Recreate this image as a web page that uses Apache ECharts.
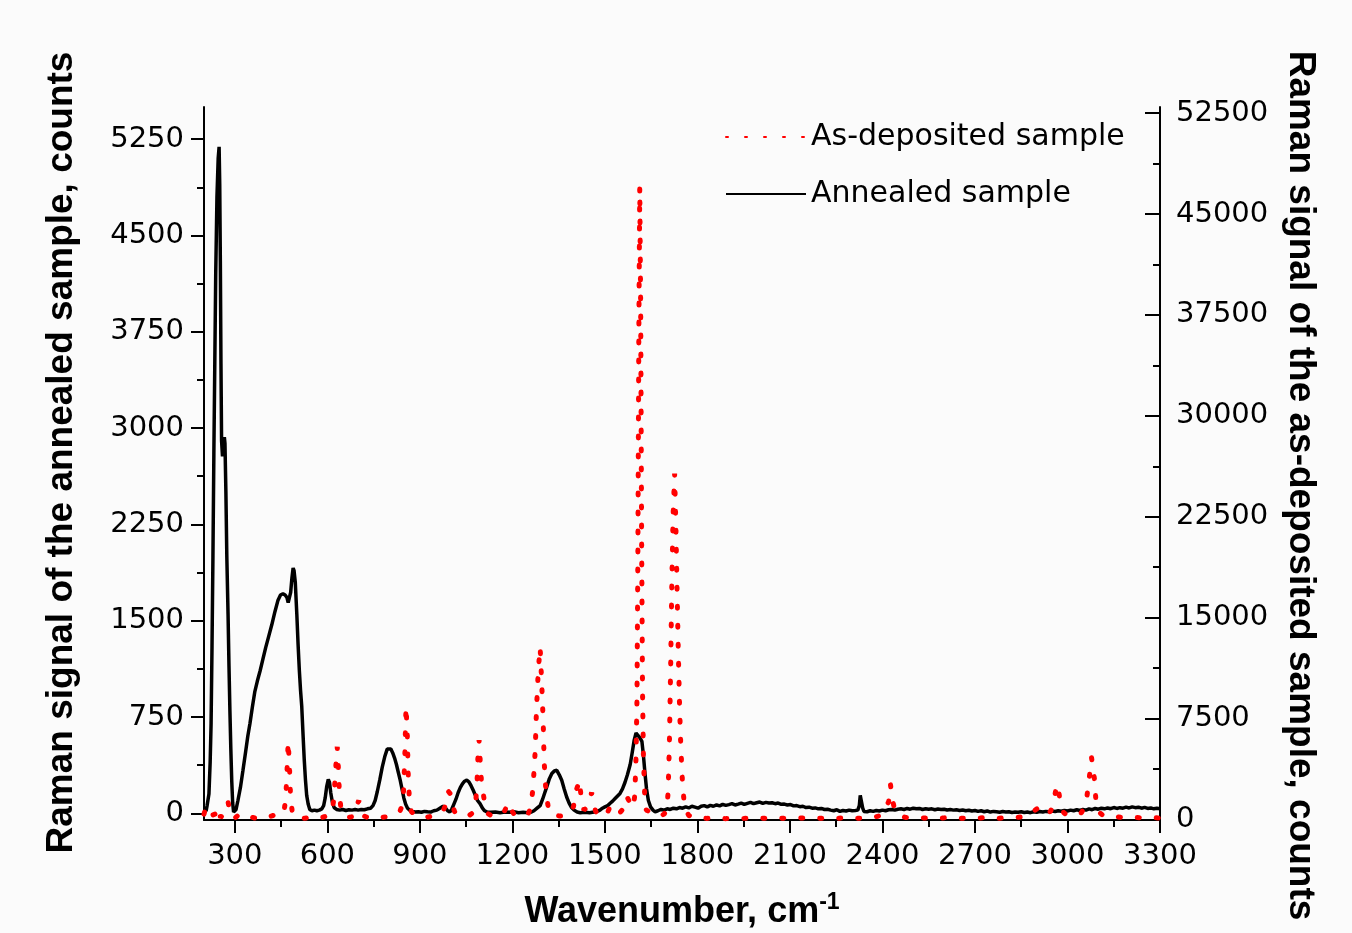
<!DOCTYPE html>
<html>
<head>
<meta charset="utf-8">
<script src="https://cdn.jsdelivr.net/npm/echarts@6/dist/echarts.min.js"></script>
<style>
  html, body { margin: 0; padding: 0; background: #fbfbfb; }
  #chart { width: 1352px; height: 933px; }
</style>
</head>
<body>
<div id="chart"></div>
<script>
// annealed sample (left axis), wavenumber / counts
const annealedX = [200, 203, 207, 210, 216, 220, 223, 226, 229, 232, 235, 238, 242, 246, 249, 251, 253, 255, 257, 260, 263, 266, 268, 271, 274, 278, 281, 284, 287, 290, 293, 296, 300, 304, 310, 318, 326, 335, 342, 349, 357, 365, 373, 382, 391, 400, 410, 420, 430, 440, 448, 456, 463, 469, 473, 477, 481, 485, 489, 492, 496, 501, 505, 509, 513, 517, 521, 525, 529, 533, 538, 543, 550, 558, 566, 574, 582, 588, 593, 598, 603, 607, 611, 616, 622, 630, 640, 650, 660, 670, 680, 690, 700, 710, 720, 730, 740, 748, 755, 762, 770, 778, 786, 794, 800, 806, 812, 818, 824, 830, 836, 842, 848, 854, 860, 867, 875, 885, 895, 905, 915, 925, 935, 945, 955, 965, 975, 982, 990, 997, 1003, 1010, 1017, 1024, 1031, 1038, 1045, 1052, 1059, 1066, 1073, 1080, 1087, 1095, 1103, 1110, 1118, 1130, 1145, 1160, 1175, 1190, 1205, 1220, 1235, 1250, 1262, 1270, 1280, 1290, 1298, 1305, 1312, 1320, 1328, 1336, 1344, 1352, 1360, 1368, 1376, 1384, 1392, 1400, 1410, 1420, 1435, 1450, 1465, 1475, 1484, 1492, 1500, 1509, 1517, 1525, 1533, 1541, 1549, 1557, 1565, 1573, 1582, 1589, 1595, 1601, 1607, 1613, 1620, 1625, 1630, 1635, 1641, 1648, 1656, 1663, 1672, 1682, 1692, 1702, 1712, 1722, 1732, 1742, 1752, 1762, 1772, 1782, 1792, 1802, 1812, 1822, 1832, 1842, 1852, 1862, 1872, 1882, 1892, 1902, 1912, 1922, 1932, 1942, 1952, 1962, 1972, 1982, 1992, 2002, 2012, 2022, 2032, 2042, 2052, 2062, 2072, 2082, 2092, 2102, 2112, 2122, 2132, 2142, 2152, 2162, 2172, 2182, 2192, 2202, 2212, 2222, 2232, 2242, 2252, 2262, 2272, 2282, 2292, 2302, 2312, 2320, 2325, 2328, 2333, 2336, 2340, 2350, 2360, 2370, 2380, 2390, 2400, 2410, 2420, 2430, 2440, 2450, 2460, 2470, 2480, 2490, 2500, 2510, 2520, 2530, 2540, 2550, 2560, 2570, 2580, 2590, 2600, 2610, 2620, 2630, 2640, 2650, 2660, 2670, 2680, 2690, 2700, 2710, 2720, 2730, 2740, 2750, 2760, 2770, 2780, 2790, 2800, 2810, 2820, 2830, 2840, 2850, 2860, 2870, 2880, 2890, 2900, 2910, 2920, 2930, 2940, 2950, 2960, 2970, 2980, 2990, 3000, 3010, 3020, 3030, 3040, 3050, 3060, 3070, 3080, 3090, 3100, 3110, 3120, 3130, 3140, 3150, 3160, 3170, 3180, 3190, 3200, 3210, 3220, 3230, 3240, 3250, 3260, 3270, 3280, 3290, 3300];
const annealedY = [15, 10, 20, 60, 150, 400, 700, 1300, 2000, 2800, 3500, 4200, 4800, 5100, 5190, 4900, 4300, 3500, 2900, 2780, 2900, 2930, 2880, 2500, 2000, 1550, 1150, 800, 500, 250, 80, 10, 5, 30, 100, 200, 330, 480, 600, 700, 830, 950, 1030, 1110, 1200, 1290, 1380, 1470, 1570, 1660, 1700, 1710, 1700, 1680, 1640, 1650, 1720, 1830, 1910, 1890, 1800, 1550, 1320, 1120, 960, 830, 620, 420, 260, 140, 70, 30, 20, 25, 20, 25, 35, 60, 120, 210, 265, 240, 160, 90, 45, 30, 25, 30, 22, 28, 25, 30, 25, 30, 28, 35, 40, 60, 100, 170, 260, 360, 440, 500, 515, 500, 470, 430, 380, 320, 260, 190, 120, 70, 40, 25, 15, 10, 12, 8, 15, 12, 10, 20, 25, 40, 55, 45, 20, 10, 30, 70, 110, 160, 200, 230, 250, 258, 245, 215, 180, 140, 100, 75, 40, 20, 10, 8, 10, 5, 10, 8, 12, 5, 8, 5, 10, 20, 40, 60, 110, 160, 210, 270, 310, 330, 335, 300, 257, 190, 127, 80, 45, 25, 10, 5, 8, 5, 10, 15, 25, 40, 50, 60, 78, 95, 115, 135, 155, 190, 240, 300, 380, 480, 570, 625, 615, 590, 560, 450, 310, 190, 100, 50, 25, 12, 20, 30, 25, 35, 30, 40, 35, 45, 40, 50, 42, 55, 48, 40, 55, 60, 50, 62, 55, 65, 58, 70, 62, 68, 75, 65, 72, 80, 70, 78, 85, 75, 82, 88, 78, 85, 80, 82, 75, 80, 70, 72, 65, 68, 58, 60, 52, 55, 45, 48, 40, 42, 35, 38, 30, 32, 25, 20, 28, 15, 22, 18, 25, 20, 22, 25, 60, 140, 145, 40, 15, 12, 20, 15, 22, 18, 25, 20, 28, 30, 25, 32, 35, 30, 38, 32, 40, 35, 38, 30, 36, 32, 35, 28, 33, 30, 32, 26, 30, 25, 28, 22, 26, 20, 24, 18, 22, 15, 20, 12, 18, 10, 15, 12, 8, 14, 10, 12, 6, 10, 8, 12, 6, 10, 5, 12, 8, 14, 10, 15, 12, 18, 14, 20, 16, 22, 18, 25, 20, 28, 22, 30, 25, 35, 28, 38, 32, 40, 35, 42, 36, 45, 38, 44, 40, 48, 42, 50, 44, 48, 40, 46, 38, 42, 35, 40, 36];

// as-deposited sample (right axis)
const depositedX = [200, 206, 212, 218, 224, 230, 236, 242, 248, 254, 260, 266, 272, 278, 284, 290, 300, 310, 320, 335, 350, 365, 380, 395, 410, 425, 440, 452, 460, 465, 469, 473, 477, 481, 486, 495, 505, 515, 530, 545, 560, 575, 590, 605, 615, 621, 625, 629, 632, 635, 639, 644, 652, 665, 680, 692, 698, 702, 707, 715, 730, 745, 760, 775, 790, 805, 820, 835, 842, 847, 851, 855, 859, 862, 866, 872, 885, 900, 915, 930, 945, 960, 975, 985, 992, 999, 1005, 1012, 1020, 1030, 1045, 1060, 1072, 1080, 1085, 1088, 1092, 1096, 1100, 1104, 1110, 1117, 1130, 1145, 1160, 1172, 1180, 1187, 1194, 1205, 1220, 1235, 1250, 1260, 1267, 1274, 1278, 1284, 1290, 1295, 1300, 1303, 1309, 1316, 1325, 1340, 1355, 1370, 1385, 1398, 1409, 1418, 1424, 1432, 1442, 1450, 1457, 1463, 1470, 1480, 1495, 1508, 1517, 1530, 1545, 1556, 1565, 1571, 1578, 1585, 1592, 1597, 1601, 1604, 1607, 1610, 1613, 1616, 1619, 1622, 1625, 1629, 1634, 1642, 1652, 1665, 1680, 1692, 1700, 1705, 1709, 1713, 1717, 1721, 1726, 1730, 1734, 1738, 1742, 1746, 1751, 1756, 1762, 1772, 1785, 1800, 1830, 1860, 1890, 1920, 1950, 1980, 2010, 2040, 2070, 2100, 2130, 2160, 2190, 2220, 2250, 2280, 2310, 2340, 2370, 2395, 2410, 2420, 2426, 2432, 2440, 2455, 2475, 2500, 2530, 2560, 2590, 2620, 2650, 2680, 2710, 2740, 2770, 2800, 2830, 2860, 2880, 2895, 2905, 2915, 2930, 2945, 2955, 2962, 2967, 2972, 2978, 2988, 3000, 3015, 3030, 3045, 3055, 3063, 3071, 3078, 3083, 3088, 3092, 3100, 3115, 3130, 3150, 3175, 3200, 3225, 3250, 3275, 3300];
const depositedY = [400, 900, 1000, 700, 300, 200, 400, 900, 500, 150, 300, 700, 1000, 1300, 600, 200, 100, 300, 150, 50, 200, 100, 50, 150, 200, 300, 500, 400, 700, 1500, 3500, 5800, 4000, 1500, 600, 200, 100, 50, 100, 200, 150, 100, 200, 300, 600, 1500, 3000, 4500, 5400, 4200, 2000, 800, 300, 150, 200, 500, 1200, 1400, 800, 300, 150, 100, 200, 150, 200, 300, 400, 600, 1000, 2000, 4500, 8400, 6500, 3500, 1500, 600, 300, 200, 150, 200, 300, 400, 600, 1200, 2100, 1900, 1200, 600, 400, 300, 250, 300, 500, 1000, 2500, 4500, 5900, 4200, 2700, 2200, 1200, 500, 300, 250, 300, 500, 900, 1250, 800, 400, 300, 250, 350, 900, 2400, 5100, 8100, 11100, 12800, 10200, 7200, 4300, 2000, 950, 400, 300, 250, 300, 400, 950, 2300, 2900, 1300, 700, 900, 1500, 2000, 1200, 600, 300, 200, 500, 950, 600, 400, 700, 1200, 1700, 1400, 900, 1000, 1800, 4700, 9000, 20000, 36000, 47000, 38000, 21000, 9500, 4600, 1800, 700, 600, 400, 300, 250, 400, 700, 2000, 5500, 11000, 17500, 22500, 25700, 22000, 17000, 12500, 8500, 5500, 3000, 1500, 700, 300, 150, 100, 80, 120, 60, 100, 80, 120, 90, 60, 100, 80, 120, 70, 100, 60, 90, 120, 80, 100, 150, 300, 900, 1300, 2600, 1500, 700, 300, 150, 100, 120, 80, 100, 150, 80, 120, 100, 150, 80, 120, 150, 200, 400, 700, 850, 500, 400, 600, 1200, 2200, 2600, 2000, 1100, 500, 300, 350, 400, 500, 900, 1700, 3150, 4600, 4700, 2900, 1450, 600, 300, 200, 250, 150, 200, 150, 100, 150, 100];

// axis ticks
const xMajor = [300, 600, 900, 1200, 1500, 1800, 2100, 2400, 2700, 3000, 3300];
const xMinor = [450, 750, 1050, 1350, 1650, 1950, 2250, 2550, 2850, 3150];
const leftMajor = [0, 750, 1500, 2250, 3000, 3750, 4500, 5250];
const leftMinor = [375, 1125, 1875, 2625, 3375, 4125, 4875];
const rightMajor = [0, 7500, 15000, 22500, 30000, 37500, 45000, 52500];
const rightMinor = [3750, 11250, 18750, 26250, 33750, 41250, 48750];

const zip = (xs, ys) => xs.map((x, i) => [x, ys[i]]);

const labelFont = "DejaVu Sans";
const titleFont = "Liberation Sans";
const black = "#000";

const titleStyle = {
  fontFamily: titleFont,
  fontWeight: "bold",
  fontSize: 37,
  color: black,
};

const tickLabel = (values, margin) => ({
  show: true,
  customValues: values,
  margin: margin,
  color: black,
  fontFamily: labelFont,
  fontSize: 29,
  formatter: (v) => String(v),
});

const majorAxis = (extra) => ({
  type: "value",
  axisLine: { show: true, onZero: false, lineStyle: { color: black, width: 2 } },
  splitLine: { show: false },
  ...extra,
});

const minorAxis = (extra) => ({
  type: "value",
  axisLine: { show: false, onZero: false },
  axisLabel: { show: false },
  splitLine: { show: false },
  ...extra,
});

const chart = echarts.init(document.getElementById("chart"), null, { renderer: "canvas" });

chart.setOption({
  animation: false,
  backgroundColor: "#fbfbfb",
  grid: { left: 204, right: 192, top: 107, bottom: 113, containLabel: false, outerBoundsMode: "none" },
  legend: {
    data: ["As-deposited sample", "Annealed sample"],
    orient: "vertical",
    left: 720,
    top: 117,
    itemWidth: 80,
    itemHeight: 14,
    itemGap: 27,
    selectedMode: false,
    itemStyle: { opacity: 0 },
    textStyle: { fontFamily: labelFont, fontSize: 30, color: black },
  },
  xAxis: [
    majorAxis({
      min: 200,
      max: 3300,
      position: "bottom",
      axisTick: { show: true, length: 13, customValues: xMajor, lineStyle: { color: black, width: 2 } },
      axisLabel: tickLabel(xMajor, 22),
      name: "Wavenumber, cm{sup|-1}",
      nameLocation: "middle",
      nameGap: 71,
      nameTextStyle: {
        ...titleStyle,
        fontSize: 36,
        lineHeight: 42,
        rich: {
          sup: { fontFamily: titleFont, fontWeight: "bold", fontSize: 23, color: black, verticalAlign: "top", lineHeight: 22 },
        },
      },
    }),
    minorAxis({
      min: 200,
      max: 3300,
      position: "bottom",
      axisTick: { show: true, length: 7, customValues: xMinor, lineStyle: { color: black, width: 2 } },
    }),
  ],
  yAxis: [
    majorAxis({
      min: -52,
      max: 5500,
      position: "left",
      axisTick: { show: true, length: 13, customValues: leftMajor, lineStyle: { color: black, width: 2 } },
      axisLabel: tickLabel(leftMajor, 20),
      name: "Raman signal of the annealed sample, counts",
      nameLocation: "middle",
      nameGap: 124,
      nameTextStyle: { ...titleStyle, padding: [0, 0, 0, 22] },
    }),
    majorAxis({
      min: -40,
      max: 52950,
      position: "right",
      axisTick: { show: true, inside: true, length: 15, customValues: rightMajor, lineStyle: { color: black, width: 2 } },
      axisLabel: tickLabel(rightMajor, 16),
      name: "Raman signal of the as-deposited sample, counts",
      nameLocation: "middle",
      nameRotate: -90,
      nameGap: 122,
      nameTextStyle: { ...titleStyle, padding: [0, 0, 0, 44] },
    }),
    minorAxis({
      min: -52,
      max: 5500,
      position: "left",
      axisTick: { show: true, length: 7, customValues: leftMinor, lineStyle: { color: black, width: 2 } },
    }),
    minorAxis({
      min: -40,
      max: 52950,
      position: "right",
      axisTick: { show: true, inside: true, length: 7, customValues: rightMinor, lineStyle: { color: black, width: 2 } },
    }),
  ],
  series: [
    {
      name: "Annealed sample",
      type: "line",
      xAxisIndex: 0,
      yAxisIndex: 0,
      data: zip(annealedX, annealedY),
      symbol: "none",
      z: 2,
      lineStyle: { color: black, width: 3.5 },
      itemStyle: { color: black },
    },
    {
      name: "As-deposited sample",
      type: "line",
      xAxisIndex: 0,
      yAxisIndex: 1,
      data: zip(depositedX, depositedY),
      symbol: "none",
      z: 3,
      lineStyle: { color: "#ff0000", width: 5, type: [2, 17], cap: "round" },
      itemStyle: { color: "#ff0000" },
    },
  ],
});
</script>
</body>
</html>
